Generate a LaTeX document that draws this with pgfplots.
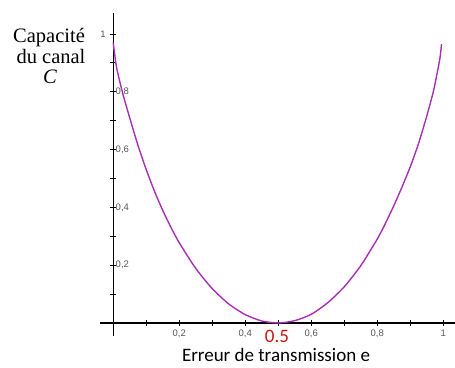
\documentclass[border=0pt]{standalone}
\usepackage{pgfplots}
\pgfplotsset{compat=1.18}
\usepackage{fontspec}
\newfontfamily\carlito{Carlito}
\newfontfamily\tnr{Liberation Serif}
\newfontfamily\arial{Liberation Sans}
\definecolor{curve}{RGB}{168,48,180}
\definecolor{ticklab}{RGB}{85,85,85}
\definecolor{redlab}{RGB}{200,20,20}
\begin{document}
\begin{tikzpicture}[x=1pt,y=1pt]
\path[use as bounding box] (0,0) rectangle (455,367);
\begin{axis}[
  at={(100pt,31pt)}, anchor=south west,
  scale only axis, width=356.4pt, height=323.1pt,
  xmin=-0.04, xmax=1.04, ymin=-0.045, ymax=1.073,
  axis lines=middle,
  axis line style={line width=1.2pt, -, black},
  every inner x axis line/.append style={-},
  every inner y axis line/.append style={-},
  xtick={0.1,0.2,0.3,0.4,0.5,0.6,0.7,0.8,0.9,1},
  xticklabels={,{0,2},,{0,4},,{0,6},,{0,8},,1},
  ytick={0.1,0.2,0.3,0.4,0.5,0.6,0.7,0.8,0.9,1},
  yticklabels={,{0,2},,{0,4},,{0,6},,{0,8},,},
  major tick length=6pt, tick align=center,
  tick style={line width=0.9pt, black},
  /pgf/number format/assume math mode=true,
  xticklabel style={font=\arial\fontsize{9.5}{10}\selectfont, text=ticklab, anchor=north, yshift=-0.5pt},
  yticklabel style={font=\arial\fontsize{9.5}{10}\selectfont, text=ticklab, anchor=west, xshift=2pt},
  clip=false,
]
\addplot[curve, line width=1.4pt, smooth, tension=0.4] coordinates {
 (0,0.97) (0.005,0.925) (0.01,0.885) (0.02,0.835) (0.03,0.79) (0.05,0.71)
 (0.075,0.615) (0.1,0.531) (0.125,0.456) (0.15,0.390) (0.175,0.331)
 (0.2,0.278) (0.25,0.189) (0.3,0.119) (0.35,0.066) (0.4,0.029)
 (0.45,0.007) (0.5,0) (0.55,0.008) (0.6,0.03) (0.65,0.07) (0.7,0.125)
 (0.75,0.198) (0.8,0.29) (0.825,0.345) (0.85,0.405) (0.875,0.47)
 (0.9,0.54) (0.925,0.62) (0.95,0.715) (0.97,0.80) (0.98,0.855)
 (0.99,0.915) (0.995,0.965)
};
\node[font=\arial\fontsize{9.5}{10}\selectfont, text=ticklab, anchor=east] at (axis cs:0,1) [xshift=-4pt] {1};
\end{axis}
\node[anchor=base, inner sep=0pt, font=\carlito\fontsize{19}{20}\selectfont] at (276,6) {Erreur de transmission e};
\node[anchor=base, inner sep=0pt, font=\carlito\fontsize{19}{20}\selectfont, text=redlab] at (277,25) {0.5};
\node[anchor=base, inner sep=0pt, font=\tnr\fontsize{20.5}{21}\selectfont] at (49,324) {Capacité};
\node[anchor=base, inner sep=0pt, font=\tnr\fontsize{20.5}{21}\selectfont] at (51,303) {du canal};
\node[anchor=base, inner sep=0pt, font=\tnr\itshape\fontsize{20.5}{21}\selectfont] at (50,283) {C};
\end{tikzpicture}
\end{document}
